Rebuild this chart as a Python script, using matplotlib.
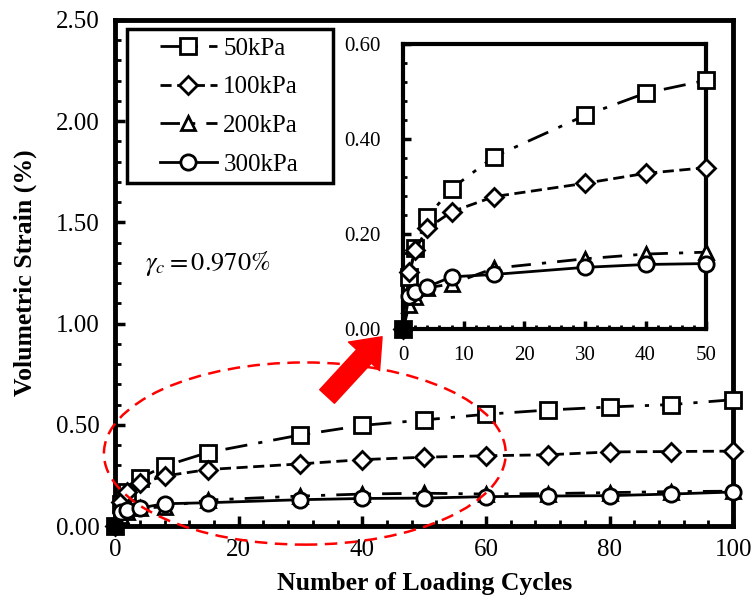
import matplotlib
matplotlib.use("Agg")
import matplotlib.pyplot as plt
from matplotlib.patches import Ellipse, Rectangle
from matplotlib.ticker import MultipleLocator

# ---- data ----
cycles = [0, 1, 2, 4, 8, 15, 30, 40, 50, 60, 70, 80, 90, 100]
strain_50 = [0, 0.11, 0.17, 0.236, 0.296, 0.363, 0.45, 0.497, 0.524, 0.552, 0.573, 0.588, 0.600, 0.624]
strain_100 = [0, 0.12, 0.166, 0.212, 0.247, 0.279, 0.307, 0.328, 0.340, 0.347, 0.352, 0.366, 0.368, 0.370]
strain_200 = [0, 0.05, 0.068, 0.087, 0.095, 0.128, 0.148, 0.158, 0.162, 0.158, 0.160, 0.165, 0.170, 0.172]
strain_300 = [0, 0.07, 0.078, 0.089, 0.11, 0.115, 0.13, 0.136, 0.138, 0.145, 0.148, 0.150, 0.158, 0.168]
labels = ["50kPa", "100kPa", "200kPa", "300kPa"]

series = [strain_50, strain_100, strain_200, strain_300]
markers = ["s", "D", "^", "o"]
msizes = [11, 9, 10, 11]
styles = [(0, (8, 4, 1.5, 4)), (0, (4, 2)), (0, (7, 4, 1.5, 4)), "-"]

plt.rcParams["font.family"] = "Liberation Serif"
plt.rcParams["mathtext.fontset"] = "stix"

fig = plt.figure(figsize=(7.52, 6.06), dpi=100)
ax = fig.add_axes([0.153, 0.132, 0.822, 0.835])


def draw(a, n):
    for ys, m, ms, ls, lab in zip(series, markers, msizes, styles, labels):
        a.plot(cycles[:n], ys[:n], color="black", linestyle=ls, linewidth=2,
               marker=m, markersize=ms, markerfacecolor="white",
               markeredgecolor="black", markeredgewidth=2, label=lab,
               clip_on=False, zorder=3)
    # overlapping points at the origin look like a solid black block
    a.plot([0], [0], marker="s", markersize=10, color="black",
           clip_on=False, zorder=4)


def style_axes(a, lw, fs, pad):
    for s in a.spines.values():
        s.set_linewidth(lw)
    a.tick_params(which="both", direction="in", top=False, right=False,
                  labelsize=fs, pad=pad)
    a.tick_params(which="major", length=7, width=2.5)
    a.tick_params(which="minor", length=4, width=2)


# ---- main plot ----
draw(ax, len(cycles))
ax.set_xlim(0, 100)
ax.set_ylim(0, 2.5)
ax.xaxis.set_major_locator(MultipleLocator(20))
ax.xaxis.set_minor_locator(MultipleLocator(4))
ax.yaxis.set_major_locator(MultipleLocator(0.5))
ax.yaxis.set_minor_locator(MultipleLocator(0.1))
ax.yaxis.set_major_formatter(lambda v, p: f"{v:.2f}")
style_axes(ax, 3.5, 18, 9)
ax.tick_params(axis="y", pad=11)
ax.set_xlabel("Number of Loading Cycles", fontsize=18.5, fontweight="bold", labelpad=8)
ax.set_ylabel("Volumetric Strain (%)", fontsize=18.5, fontweight="bold", labelpad=14)

# legend: frameless, with a hand-placed box around it
leg = ax.legend(loc="upper left", bbox_to_anchor=(0.072, 0.966), fontsize=18,
                frameon=False, handlelength=2.3, handletextpad=0.25,
                labelspacing=0.65, borderpad=0, borderaxespad=0)
ax.add_patch(Rectangle((0.019, 0.678), 0.334, 0.304, transform=ax.transAxes,
                       fill=False, edgecolor="black", linewidth=2.5, zorder=5))

ax.text(4.8, 1.265, r"$\gamma_c = 0.970\%$", fontsize=19)

# dashed red ellipse + red arrow
ax.add_patch(Ellipse((30.7, 0.358), 65, 0.9, fill=False, edgecolor="red",
                     linestyle=(0, (5, 3)), linewidth=1.8, clip_on=False, zorder=4))
ax.annotate("", xy=(43.2, 0.935), xytext=(34.3, 0.64),
            arrowprops=dict(arrowstyle="simple,head_length=1.2,head_width=1.9,tail_width=0.9",
                            color="red", mutation_scale=16, shrinkA=0, shrinkB=0))

# ---- inset ----
ins = fig.add_axes([0.536, 0.457, 0.403, 0.470])
draw(ins, 9)
ins.set_xlim(0, 50)
ins.set_ylim(0, 0.6)
ins.xaxis.set_major_locator(MultipleLocator(10))
ins.xaxis.set_minor_locator(MultipleLocator(2))
ins.yaxis.set_major_locator(MultipleLocator(0.2))
ins.yaxis.set_minor_locator(MultipleLocator(0.04))
ins.yaxis.set_major_formatter(lambda v, p: f"{v:.2f}")
style_axes(ins, 3, 15, 12)
ins.tick_params(axis="y", pad=16)
ins.tick_params(which="major", length=6)
ins.tick_params(which="minor", length=3)

fig.savefig("out.png", dpi=100)
